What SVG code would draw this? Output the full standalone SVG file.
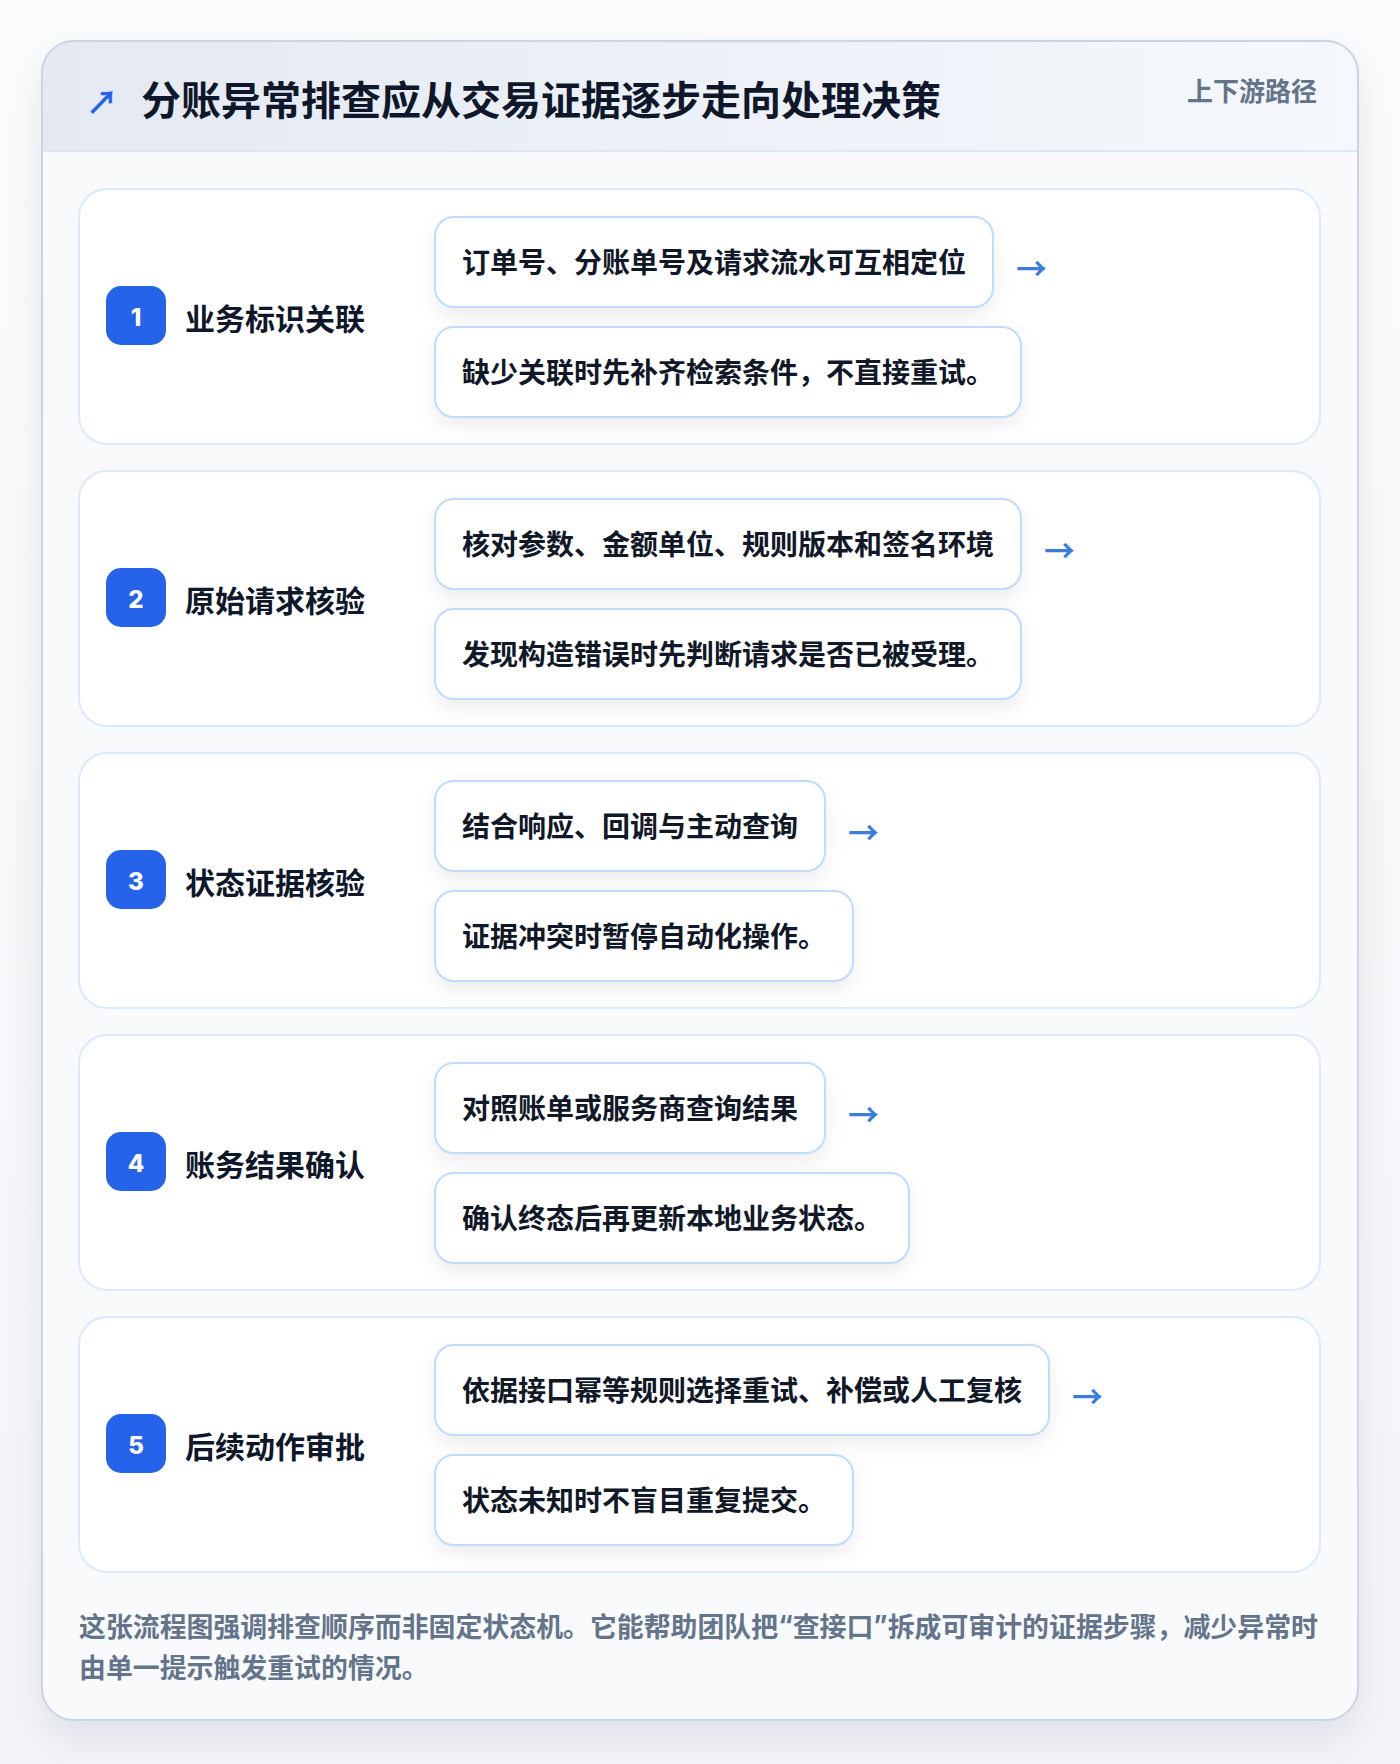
<svg xmlns="http://www.w3.org/2000/svg" width="1400" height="1764" viewBox="0 0 1400 1764">
<defs>
<linearGradient id="pageBg" x1="0" y1="0" x2="0" y2="1">
<stop offset="0" stop-color="#fbfcfd"/>
<stop offset="1" stop-color="#f3f5f8"/>
</linearGradient>
<linearGradient id="headBg" x1="0" y1="0" x2="1" y2="0">
<stop offset="0" stop-color="#e4e9f2"/>
<stop offset="1" stop-color="#f5f8fc"/>
</linearGradient>
<filter id="cardShadow" x="-10%" y="-10%" width="120%" height="120%">
<feDropShadow dx="0" dy="18" stdDeviation="20" flood-color="#0f172a" flood-opacity="0.09"/>
</filter>
<filter id="boxShadow" x="-10%" y="-20%" width="120%" height="160%">
<feDropShadow dx="0" dy="8" stdDeviation="9" flood-color="#0f172a" flood-opacity="0.07"/>
</filter>
<clipPath id="cardClip"><rect x="42" y="41" width="1316" height="1679" rx="32"/></clipPath>
<style>
.cjk{font-family:"Noto Sans CJK SC","Noto Sans",sans-serif;font-weight:700}
.title{font-size:40px;fill:#0f172a}
.tag{font-size:26px;fill:#64748b}
.step{fill:#ffffff;stroke:#dbeafe;stroke-width:2}
.badge{fill:#2563eb}
.num{font-family:Inter,"Noto Sans",sans-serif;font-weight:800;font-size:24px;fill:#ffffff}
.label{font-size:30px;fill:#0f172a}
.box{fill:#ffffff;stroke:#bfdbfe;stroke-width:2}
.btxt{font-size:28px;fill:#111827}
.arrow{font-size:31px;font-weight:700;fill:#3b7ddd;font-family:"Noto Sans CJK SC",sans-serif}
.foot{font-size:26.9px;fill:#64748b}
.q{font-family:Inter,"Liberation Sans",sans-serif}
</style>
</defs>
<rect x="0" y="0" width="1400" height="1764" fill="url(#pageBg)"/>
<g id="card">
<rect x="42" y="41" width="1316" height="1679" rx="32" fill="#f8fafc" filter="url(#cardShadow)"/>
<g clip-path="url(#cardClip)">
<rect x="42" y="41" width="1316" height="110" fill="url(#headBg)"/>
<line x1="42" y1="151" x2="1358" y2="151" stroke="#dbe7f6" stroke-width="2"/>
</g>
<rect x="42" y="41" width="1316" height="1679" rx="32" fill="none" stroke="#cbd5e1" stroke-width="2"/>
</g>
<g id="header">
<text class="cjk" x="86" y="100" dominant-baseline="central" font-size="32" fill="#2563eb">↗</text>
<text class="cjk title" x="141" y="98" dominant-baseline="central">分账异常排查应从交易证据逐步走向处理决策</text>
<text class="cjk tag" x="1317" y="89" text-anchor="end" dominant-baseline="central">上下游路径</text>
</g>
<g id="step1">
<rect class="step" x="79" y="189" width="1241" height="255" rx="28"/>
<rect class="badge" x="106" y="286" width="60" height="59" rx="15"/>
<text class="num" x="136" y="317" text-anchor="middle" dominant-baseline="central">1</text>
<text class="cjk label" x="185" y="317" dominant-baseline="central">业务标识关联</text>
<g filter="url(#boxShadow)"><rect class="box" x="435" y="217" width="558" height="90" rx="19"/></g>
<text class="cjk btxt" x="462" y="261" dominant-baseline="central">订单号、分账单号及请求流水可互相定位</text>
<g filter="url(#boxShadow)"><rect class="box" x="435" y="327" width="586" height="90" rx="19"/></g>
<text class="cjk btxt" x="462" y="371" dominant-baseline="central">缺少关联时先补齐检索条件，不直接重试。</text>
</g>
<g id="step2">
<rect class="step" x="79" y="471" width="1241" height="255" rx="28"/>
<rect class="badge" x="106" y="568" width="60" height="59" rx="15"/>
<text class="num" x="136" y="599" text-anchor="middle" dominant-baseline="central">2</text>
<text class="cjk label" x="185" y="599" dominant-baseline="central">原始请求核验</text>
<g filter="url(#boxShadow)"><rect class="box" x="435" y="499" width="586" height="90" rx="19"/></g>
<text class="cjk btxt" x="462" y="543" dominant-baseline="central">核对参数、金额单位、规则版本和签名环境</text>
<g filter="url(#boxShadow)"><rect class="box" x="435" y="609" width="586" height="90" rx="19"/></g>
<text class="cjk btxt" x="462" y="653" dominant-baseline="central">发现构造错误时先判断请求是否已被受理。</text>
</g>
<g id="step3">
<rect class="step" x="79" y="753" width="1241" height="255" rx="28"/>
<rect class="badge" x="106" y="850" width="60" height="59" rx="15"/>
<text class="num" x="136" y="881" text-anchor="middle" dominant-baseline="central">3</text>
<text class="cjk label" x="185" y="881" dominant-baseline="central">状态证据核验</text>
<g filter="url(#boxShadow)"><rect class="box" x="435" y="781" width="390" height="90" rx="19"/></g>
<text class="cjk btxt" x="462" y="825" dominant-baseline="central">结合响应、回调与主动查询</text>
<g filter="url(#boxShadow)"><rect class="box" x="435" y="891" width="418" height="90" rx="19"/></g>
<text class="cjk btxt" x="462" y="935" dominant-baseline="central">证据冲突时暂停自动化操作。</text>
</g>
<g id="step4">
<rect class="step" x="79" y="1035" width="1241" height="255" rx="28"/>
<rect class="badge" x="106" y="1132" width="60" height="59" rx="15"/>
<text class="num" x="136" y="1163" text-anchor="middle" dominant-baseline="central">4</text>
<text class="cjk label" x="185" y="1163" dominant-baseline="central">账务结果确认</text>
<g filter="url(#boxShadow)"><rect class="box" x="435" y="1063" width="390" height="90" rx="19"/></g>
<text class="cjk btxt" x="462" y="1107" dominant-baseline="central">对照账单或服务商查询结果</text>
<g filter="url(#boxShadow)"><rect class="box" x="435" y="1173" width="474" height="90" rx="19"/></g>
<text class="cjk btxt" x="462" y="1217" dominant-baseline="central">确认终态后再更新本地业务状态。</text>
</g>
<g id="step5">
<rect class="step" x="79" y="1317" width="1241" height="255" rx="28"/>
<rect class="badge" x="106" y="1414" width="60" height="59" rx="15"/>
<text class="num" x="136" y="1445" text-anchor="middle" dominant-baseline="central">5</text>
<text class="cjk label" x="185" y="1445" dominant-baseline="central">后续动作审批</text>
<g filter="url(#boxShadow)"><rect class="box" x="435" y="1345" width="614" height="90" rx="19"/></g>
<text class="cjk btxt" x="462" y="1389" dominant-baseline="central">依据接口幂等规则选择重试、补偿或人工复核</text>
<g filter="url(#boxShadow)"><rect class="box" x="435" y="1455" width="418" height="90" rx="19"/></g>
<text class="cjk btxt" x="462" y="1499" dominant-baseline="central">状态未知时不盲目重复提交。</text>
</g>
<g id="connectors">
<text class="arrow" x="1016" y="266" dominant-baseline="central">→</text>
<text class="arrow" x="1044" y="548" dominant-baseline="central">→</text>
<text class="arrow" x="848" y="830" dominant-baseline="central">→</text>
<text class="arrow" x="848" y="1112" dominant-baseline="central">→</text>
<text class="arrow" x="1072" y="1394" dominant-baseline="central">→</text>
</g>
<g id="footer">
<text class="cjk foot" x="79" y="1625" dominant-baseline="central">这张流程图强调排查顺序而非固定状态机。它能帮助团队把<tspan class="q">“</tspan>查接口<tspan class="q">”</tspan>拆成可审计的证据步骤，减少异常时</text>
<text class="cjk foot" x="79" y="1666" dominant-baseline="central">由单一提示触发重试的情况。</text>
</g>
</svg>
